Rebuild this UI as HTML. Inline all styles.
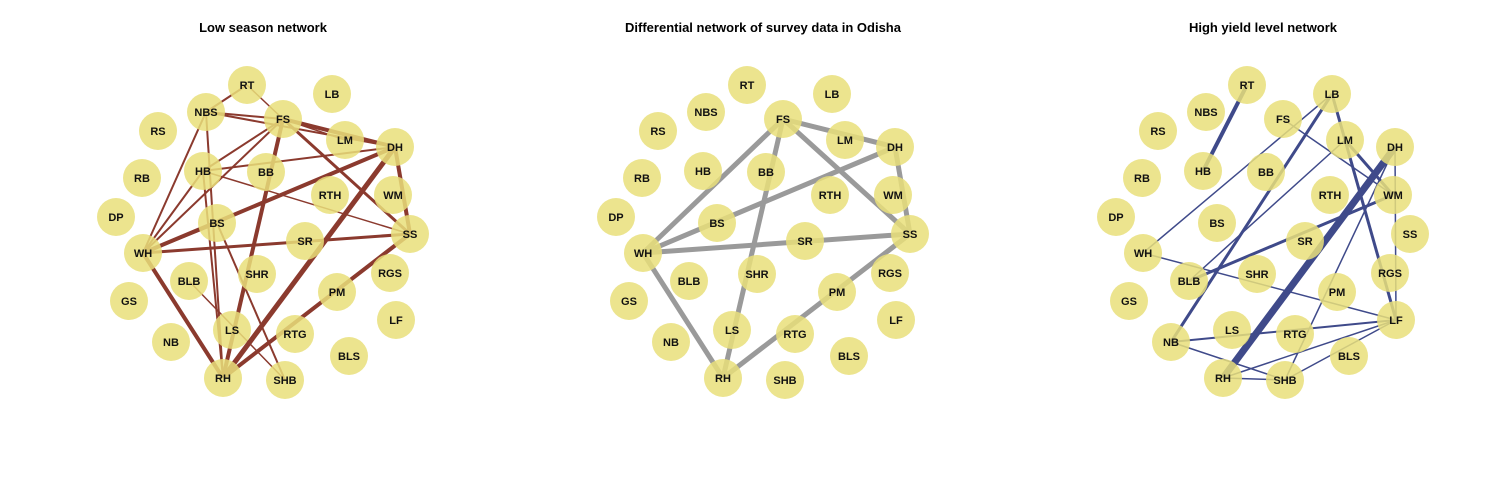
<!DOCTYPE html>
<html><head><meta charset="utf-8"><style>
body{margin:0;background:#fff;}
svg{display:block;font-family:"Liberation Sans",Arial,sans-serif;}
</style></head><body>
<svg id="c" width="1500" height="480" viewBox="0 0 1500 480"></svg>
<script>
const nodeNames = ["RT","LB","NBS","FS","RS","LM","DH","RB","HB","BB","RTH","WM","DP","BS","SS","SR","WH","RGS","BLB","SHR","GS","PM","LF","LS","RTG","NB","BLS","RH","SHB"];
const nodeX = [247,332,206,283,158,345,395,142,203,266,330,393,116,217,410,305,143,390,189,257,129,337,396,232,295,171,349,223,285];
const nodeY = [85,94,112,119,131,140,147,178,171,172,195,195,217,223,234,241,253,273,281,274,301,292,320,330,334,342,356,378,380];
const titles = ["Low season network","Differential network of survey data in Odisha","High yield level network"];
const panelOffsets = [0,500,1000];
const edgeColors = ["#8B3A2E","#9a9a9a","#3F4A8A"];
const edgesLow = [["NBS","RT",2],["RT","FS",1.5],["NBS","FS",2],["NBS","DH",2],["FS","DH",4],["FS","LM",1.5],["FS","HB",2],["FS","WH",2],["FS","RH",4],["FS","SS",3],["HB","DH",2],["HB","SS",1.5],["WH","NBS",2],["WH","HB",2],["WH","BS",3],["WH","DH",4],["WH","SS",3],["WH","RH",4],["NBS","RH",2],["HB","RH",2],["BS","SHB",2],["BLB","SHB",1.5],["DH","SS",4],["DH","RH",5],["SS","RH",4]];
const edgesDiff = [["FS","DH",5],["FS","WH",5],["FS","RH",5],["FS","SS",5],["WH","DH",5],["WH","SS",5],["WH","RH",5],["DH","SS",5],["SS","RH",5]];
const edgesHigh = [["RT","HB",4],["LB","WH",1.5],["LB","NB",3],["LB","LF",3],["FS","WM",1.5],["LM","BLB",1.5],["LM","WM",3],["DH","RH",7],["DH","SHB",1.5],["DH","LF",1.5],["WM","BLB",3],["WH","LF",1.5],["NB","LF",2],["NB","SHB",1.5],["RH","LF",1.5],["RH","SHB",1.5],["SHB","LF",1.5]];
const edgeSets = [edgesLow,edgesDiff,edgesHigh];
const NS="http://www.w3.org/2000/svg";
const svg=document.getElementById('c');
function idx(n){return nodeNames.indexOf(n);}
const panelNames=["low-season","differential","high-yield"];
for(let p=0;p<3;p++){
  const off=panelOffsets[p];
  const g=document.createElementNS(NS,'g');
  
  
  svg.appendChild(g);
  const t=document.createElementNS(NS,'text');
  
  
  t.setAttribute('x',263+off);t.setAttribute('y',32);t.setAttribute('text-anchor','middle');
  t.setAttribute('font-size','13');t.setAttribute('font-weight','bold');t.textContent=titles[p];
  g.appendChild(t);
  edgeSets[p].forEach(e=>{
    const a=idx(e[0]),b=idx(e[1]);
    const l=document.createElementNS(NS,'line');
    
    
    l.setAttribute('x1',nodeX[a]+off);l.setAttribute('y1',nodeY[a]);
    l.setAttribute('x2',nodeX[b]+off);l.setAttribute('y2',nodeY[b]);
    l.setAttribute('stroke',edgeColors[p]);l.setAttribute('stroke-width',e[2]);
    g.appendChild(l);
  });
  nodeNames.forEach((n,i)=>{
    const c=document.createElementNS(NS,'circle');
    
    
    c.setAttribute('cx',nodeX[i]+off);c.setAttribute('cy',nodeY[i]);c.setAttribute('r',19);
    c.setAttribute('fill','#E9DF7A');c.setAttribute('fill-opacity','0.85');
    g.appendChild(c);
    const tx=document.createElementNS(NS,'text');
    
    
    tx.setAttribute('x',nodeX[i]+off);tx.setAttribute('y',nodeY[i]+4);
    tx.setAttribute('text-anchor','middle');tx.setAttribute('font-size','11');tx.setAttribute('font-weight','bold');
    tx.setAttribute('fill','#111');tx.textContent=n;
    g.appendChild(tx);
  });
}
</script>
</body></html>
